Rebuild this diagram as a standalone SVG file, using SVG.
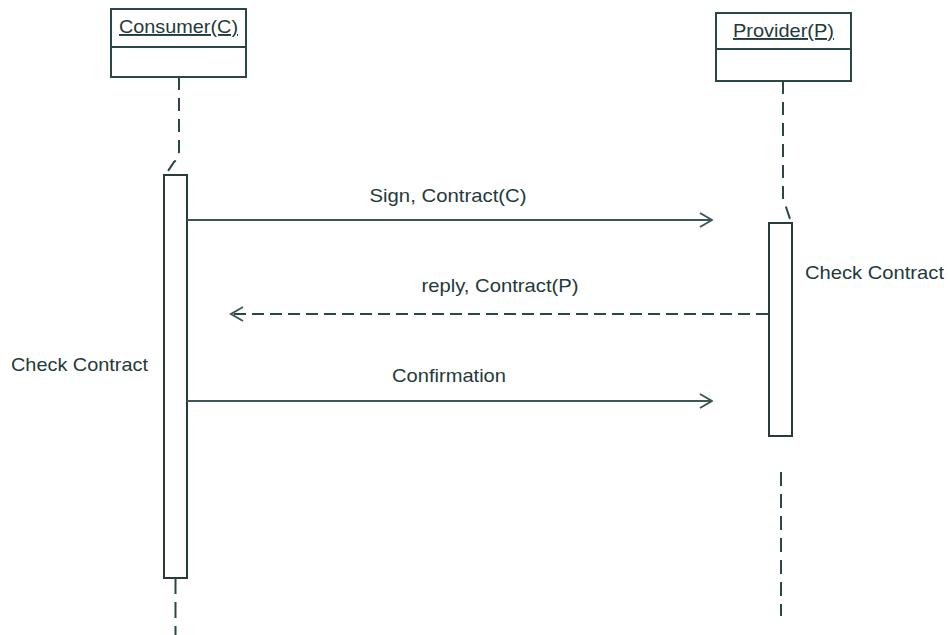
<svg xmlns="http://www.w3.org/2000/svg" width="948" height="635" viewBox="0 0 948 635">
  <defs>
    <style>
      .box { fill: #ffffff; stroke: #2a4646; stroke-width: 2; }
      .bar { fill: #ffffff; stroke: #263c3c; stroke-width: 2; }
      .life { fill: none; stroke: #2a4646; stroke-width: 2; stroke-dasharray: 13 8; }
      .msg { fill: none; stroke: #3e5656; stroke-width: 2; }
      .reply { fill: none; stroke: #2a4646; stroke-width: 2; stroke-dasharray: 12 6; }
      .lbl { font-family: "Liberation Sans", Arial, sans-serif; font-size: 19px; fill: #1f3a3a; }
      .title { font-family: "Liberation Sans", Arial, sans-serif; font-size: 19px; fill: #1f3a3a; text-decoration: underline; }
    </style>
    <marker id="open" viewBox="0 0 14 16" refX="13" refY="8" markerWidth="14" markerHeight="16" markerUnits="userSpaceOnUse" orient="auto-start-reverse">
      <path d="M1 1 L13 8 L1 15" fill="none" stroke="#3e5656" stroke-width="2"/>
    </marker>
  </defs>

  <!-- Consumer object and its lifeline -->
  <g id="consumer">
    <rect class="box" x="111" y="9" width="135" height="68"/>
    <line x1="111" y1="47" x2="246" y2="47" stroke="#2a4646" stroke-width="2"/>
    <text class="title" x="178.5" y="33" text-anchor="middle" textLength="119" lengthAdjust="spacingAndGlyphs">Consumer(C)</text>
    <path class="life" d="M179 77 L179 150 Q179 158 174 162 L166 174"/>
    <rect class="bar" x="164" y="175" width="23" height="403"/>
    <line class="life" x1="175.5" y1="578" x2="175.5" y2="635" style="stroke-dasharray: 16 8"/>
    <text class="lbl" x="11" y="371" textLength="137" lengthAdjust="spacingAndGlyphs">Check Contract</text>
  </g>

  <!-- Provider object and its lifeline -->
  <g id="provider">
    <rect class="box" x="716" y="13" width="135" height="68"/>
    <line x1="716" y1="49" x2="851" y2="49" stroke="#2a4646" stroke-width="2"/>
    <text class="title" x="783.5" y="37" text-anchor="middle" textLength="101" lengthAdjust="spacingAndGlyphs">Provider(P)</text>
    <path class="life" d="M783 81 L783 198 L791 222"/>
    <rect class="bar" x="769" y="223" width="23" height="213"/>
    <line class="life" x1="781" y1="472" x2="781" y2="616" style="stroke-dasharray: 14 8"/>
    <text class="lbl" x="805" y="279" textLength="139" lengthAdjust="spacingAndGlyphs">Check Contract</text>
  </g>

  <!-- Messages -->
  <g id="connectors">
    <line class="msg" x1="187" y1="220" x2="712" y2="220" marker-end="url(#open)"/>
    <text class="lbl" x="448" y="202" text-anchor="middle" textLength="157" lengthAdjust="spacingAndGlyphs">Sign, Contract(C)</text>

    <line class="reply" x1="768" y1="314" x2="231" y2="314"/>
    <path d="M243 307 L231 314 L243 321" fill="none" stroke="#3e5656" stroke-width="2"/>
    <text class="lbl" x="500" y="292" text-anchor="middle" textLength="157" lengthAdjust="spacingAndGlyphs">reply, Contract(P)</text>

    <line class="msg" x1="187" y1="401" x2="712" y2="401" stroke="#244444" marker-end="url(#open)"/>
    <text class="lbl" x="449" y="382" text-anchor="middle" textLength="114" lengthAdjust="spacingAndGlyphs">Confirmation</text>
  </g>
</svg>
